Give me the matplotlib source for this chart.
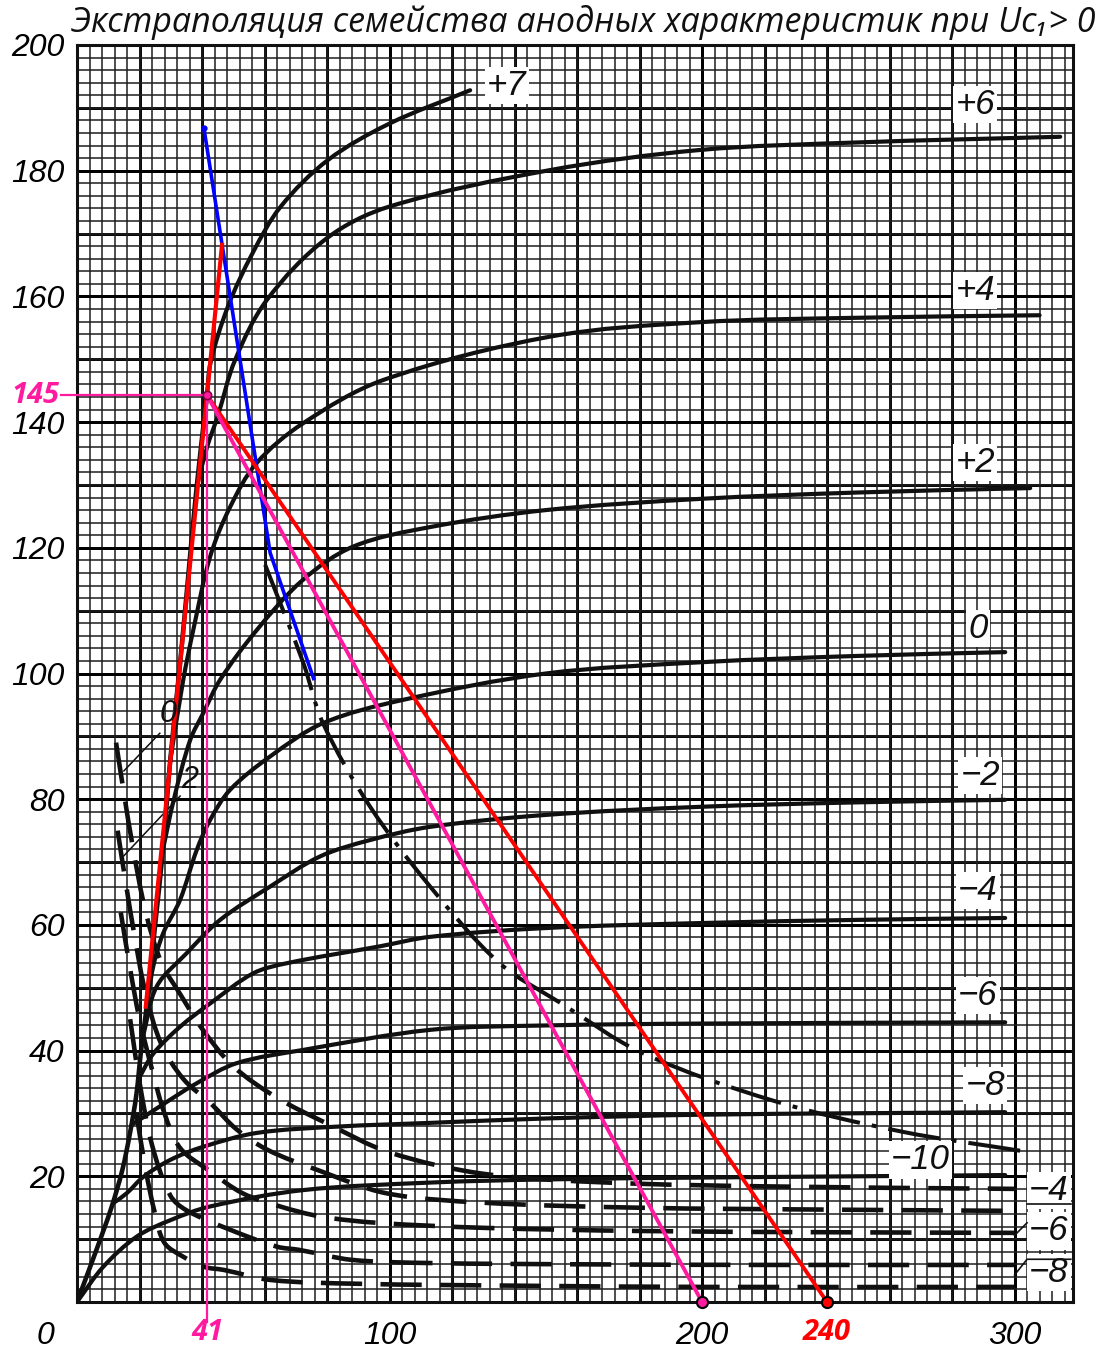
import matplotlib
matplotlib.use('Agg')
import matplotlib.pyplot as plt
import matplotlib.transforms as mtransforms
from matplotlib.path import Path
from matplotlib.patches import PathPatch
from matplotlib.ticker import MultipleLocator

# Ua, В  /  Ia, мА
# common steep part (from origin) that all curves leave
env_x = [0, 6, 11, 14.5, 17, 19, 20.5, 22.3, 25, 27.5, 29.8, 33, 38.3, 41.6]
env_y = [0, 8, 15, 21, 27, 33, 40, 47, 60, 72, 86, 101.7, 129.7, 144.3]

ug_labels = ['+7', '+6', '+4', '+2', '0', '−2', '−4', '−6', '−8', '−10']
ua = [
    [41.6, 42.7, 48.3, 56.2, 65.2, 80.3, 100, 125.8],
    [38.3, 41.6, 45, 50.6, 60.7, 79.8, 100, 151.4, 199.4, 250, 314.6],
    [29.8, 34, 37.2, 42.6, 49, 57.5, 72.3, 98, 151.4, 199.4, 250, 308],
    [27.5, 31, 36.2, 40.4, 45.8, 57.5, 72.3, 88.4, 113, 150, 200, 250, 305],
    [22.3, 24.4, 27.6, 33, 38.3, 42.6, 49, 61.8, 78.7, 104.3, 150, 200, 250, 297],
    [21, 25.5, 35.1, 45.8, 61.8, 77.8, 93.8, 113, 150, 200, 250, 297],
    [19.5, 24.4, 33, 42.6, 56.4, 67.1, 97, 113, 150, 200, 250, 297],
    [17.5, 20, 25.5, 38.3, 51.1, 72.3, 113, 150, 200, 297],
    [11.5, 15.9, 21.2, 29.8, 40.4, 57.5, 83.1, 113, 150, 200, 297],
    [0, 8.4, 19.1, 29.8, 42.6, 72.3, 113, 150, 200, 250, 297],
]
ia = [
    [144.3, 149.4, 158.4, 166.9, 174.3, 181.7, 187.5, 192.8],
    [129.7, 136, 140.9, 149.9, 159.4, 169.2, 174.3, 180.1, 183.3, 184.5, 185.4],
    [86, 99, 106.9, 118.6, 126.5, 133.5, 139.8, 146.7, 153.6, 155.9, 156.6, 157],
    [72, 80, 89.4, 93.7, 99, 106.9, 114.9, 120.2, 123.3, 126, 127.8, 128.8, 129.5],
    [47, 53.4, 58.7, 64, 71.9, 76.7, 81.5, 86.8, 92.1, 95.8, 100, 101.8, 102.8, 103.4],
    [42, 50.2, 55.5, 60.8, 66.1, 70.9, 73.5, 75.6, 77.5, 78.8, 79.5, 79.9],
    [35.3, 39.5, 43.8, 47.5, 52.3, 53.9, 56.6, 58.1, 59.5, 60.3, 60.8, 61.1],
    [28.2, 29, 30.8, 34.8, 38, 40.1, 43.3, 44, 44.3, 44.5],
    [15.7, 17.3, 19.9, 22.6, 24.7, 26.9, 27.9, 28.5, 29.2, 29.8, 30.2],
    [0, 5.6, 10.4, 13, 15.2, 17.8, 19, 19.5, 19.8, 20, 20.2],
]

# dashed family (labels on the sheet: 0, 2 at left; -4, -6, -8 at right)
dash_ua = [
    [12.5, 15, 18, 22, 27, 33, 40, 50, 64, 80, 100, 130, 170, 220, 300],
    [13, 15.5, 18.5, 22, 27, 34, 43, 51, 61, 77, 99, 130, 180, 240, 300],
    [14, 17, 20, 24, 28, 33, 42, 53, 65, 78, 96, 130, 180, 240, 300],
    [17, 20, 24, 29.8, 35, 49, 64, 71, 88, 113, 160, 220, 300],
    [19, 22, 25, 28, 34, 40.6, 47, 62, 90, 140, 200, 300],
]
dash_ia = [
    [89, 81, 72, 62, 54, 49, 43.5, 37.5, 32.5, 28.4, 23.8, 20.4, 19, 18.4, 18],
    [75, 67, 58, 49, 41, 35.5, 31.5, 27.5, 24.2, 21, 17.3, 15.8, 15, 14.7, 14.5],
    [62, 53, 45, 37, 30, 24.5, 21, 17.3, 15.2, 13.6, 12.6, 11.8, 11.3, 11.1, 11],
    [45, 35, 25, 17, 14.6, 11.5, 8.8, 8.3, 6.7, 6.2, 6, 5.9, 5.9],
    [30, 21, 14, 9.4, 7.2, 5.6, 5.1, 3.5, 2.9, 2.6, 2.4, 2.4],
]

# dash-dot curve of allowed dissipation
pa_x = [60.2, 72.4, 78.7, 93.8, 113, 135, 155, 181, 223, 264, 302.7]
pa_y = [117.3, 101.7, 92.1, 78.8, 66.1, 54, 47.5, 39.6, 32, 27.1, 24]

# hand-drawn construction lines
blue_x = [40.6, 61.8, 75.7]
blue_y = [186.8, 119.2, 99.2]
red_steep_x = [22, 46.4]
red_steep_y = [47, 168.2]
work_ua, work_ia = 41.6, 144.3
red_end = 240
pink_end = 200

xticks = [0, 100, 200, 300]
yticks = [20, 40, 60, 80, 100, 120, 140, 160, 180, 200]

PINK = '#ff1aa0'
RED = '#ff0000'
BLUE = '#0000ff'
INK = '#101010'

# pixels per unit, only used to shape the smooth drawing of a curve
SX, SY = 3.125, 6.285


def smooth(xs, ys):
    # bezier path through the read points (drawing only, no new data)
    P = [(x * SX, y * SY) for x, y in zip(xs, ys)]
    n = len(P)
    T = []
    for i in range(n):
        a = P[max(i - 1, 0)]
        b = P[min(i + 1, n - 1)]
        dx, dy = b[0] - a[0], b[1] - a[1]
        d = (dx * dx + dy * dy) ** 0.5 or 1
        T.append((dx / d, dy / d))
    verts = [P[0]]
    codes = [Path.MOVETO]
    for i in range(n - 1):
        L = ((P[i + 1][0] - P[i][0]) ** 2 + (P[i + 1][1] - P[i][1]) ** 2) ** 0.5 / 3
        verts += [(P[i][0] + T[i][0] * L, P[i][1] + T[i][1] * L),
                  (P[i + 1][0] - T[i + 1][0] * L, P[i + 1][1] - T[i + 1][1] * L),
                  P[i + 1]]
        codes += [Path.CURVE4] * 3
    return Path([(vx / SX, vy / SY) for vx, vy in verts], codes)


def curve(xs, ys, **kw):
    ax.add_patch(PathPatch(smooth(xs, ys), fill=False, **kw))


fig = plt.figure(figsize=(11.05, 13.62), dpi=100)
ax = fig.add_axes([77 / 1105, 1 - 1302 / 1362, 996 / 1105, 1257 / 1362])
ax.set_xlim(0, 318.7)
ax.set_ylim(0, 200)

# graph paper
ax.set_xticks(xticks)
ax.set_yticks(yticks)
ax.xaxis.set_minor_locator(MultipleLocator(4))
ax.yaxis.set_minor_locator(MultipleLocator(2))
ax.grid(which='minor', color='#1e1e1e', lw=1.1)
ax.grid(which='major', color='black', lw=2.1)
for v in range(10, 200, 10):
    ax.axhline(v, color='black', lw=2.1, zorder=0.5)
for v in range(20, 320, 20):
    ax.axvline(v, color='black', lw=2.1, zorder=0.5)
ax.set_axisbelow(True)
for s in ax.spines.values():
    s.set_linewidth(2.2)
    s.set_color(INK)
ax.tick_params(which='both', length=0)

tick_font = dict(family=['Liberation Sans', 'DejaVu Sans'], style='italic', size=23)
ax.set_xticklabels([str(v) for v in xticks], **tick_font)
ax.set_yticklabels([str(v) for v in yticks], **tick_font)
ax.tick_params(axis='x', pad=14)
ax.tick_params(axis='y', pad=9)
xl0 = ax.get_xticklabels()[0]
xl0.set_transform(xl0.get_transform() + mtransforms.ScaledTranslation(-0.32, 0, fig.dpi_scale_trans))

# solid family
curve(env_x, env_y, color=INK, lw=3.3, zorder=3, capstyle='round')
for xs, ys in zip(ua, ia):
    curve(xs, ys, color=INK, lw=3.0, zorder=3, capstyle='round')

# dashed family
for xs, ys in zip(dash_ua, dash_ia):
    curve(xs, ys, color=INK, lw=3.3, ls=(0, (9, 4)), zorder=3)

# dash-dot
curve(pa_x, pa_y, color=INK, lw=2.9, ls=(0, (13, 3, 1.2, 3)), zorder=3)

# construction lines
ax.plot(blue_x, blue_y, color=BLUE, lw=2.6, zorder=5)
ax.plot(blue_x[0], blue_y[0], 'o', ms=3.5, color=BLUE, zorder=6)
ax.plot(red_steep_x, red_steep_y, color=RED, lw=3, zorder=5)
ax.plot([work_ua, red_end], [work_ia, 0], color=RED, lw=2.8, zorder=5, clip_on=False)
ax.plot([work_ua, pink_end], [work_ia, 0], color=PINK, lw=2.8, zorder=5, clip_on=False)
ax.plot([-5.0, work_ua], [work_ia, work_ia], color=PINK, lw=1.6, zorder=5, clip_on=False)
ax.plot([work_ua, work_ua], [work_ia, -3.2], color=PINK, lw=1.6, zorder=5, clip_on=False)
ax.plot(work_ua, work_ia, 'o', ms=6, mfc=PINK, mec='#800040', mew=1.2, zorder=7)
ax.plot(pink_end, 0, 'o', ms=8, mfc=PINK, mec='black', mew=1.5, zorder=7, clip_on=False)
ax.plot(red_end, 0, 'o', ms=8, mfc=RED, mec='black', mew=1.5, zorder=7, clip_on=False)

# curve labels
lbl_font = dict(family=['Liberation Sans', 'DejaVu Sans'], style='italic', size=25,
                color=INK, ha='center', va='center', zorder=8)
box = dict(fc='white', ec='none', pad=1.5)
lbl_x = [137.5, 287.4, 287.4, 287.4, 288.3, 289, 288.3, 288.3, 290.6, 269.8]
lbl_y = [193.6, 190.5, 161.0, 133.6, 107.2, 83.8, 65.5, 48.8, 34.5, 22.6]
for t, x, y in zip(ug_labels, lbl_x, lbl_y):
    ax.text(x, y, t, bbox=box, **lbl_font)

dash_labels = ['−4', '−6', '−8']
for t, y in zip(dash_labels, [17.8, 11.3, 4.7]):
    ax.text(311, y, t, bbox=box, **lbl_font)
ax.plot([300, 304], [10.6, 12.6], color=INK, lw=1.2, zorder=8)
ax.plot([300, 304, 318], [4.3, 6.8, 6.8], color=INK, lw=1.2, zorder=8)
ax.plot([304, 318], [15.6, 15.6], color=INK, lw=1.2, zorder=8)

# left dashed labels with leaders
small = dict(family=['Liberation Sans', 'DejaVu Sans'], style='italic', size=22,
             color=INK, ha='center', va='center', zorder=8)
ax.text(29.2, 93.5, '0', **small)
ax.text(36, 83, '2', **small)
ax.plot([26.5, 15], [90.5, 84.5], color=INK, lw=1.1, zorder=4)
ax.plot([33, 15], [80.5, 71], color=INK, lw=1.1, zorder=4)

# coloured annotations
ann = dict(family=['Open Sans', 'DejaVu Sans'], style='italic', weight='bold', size=21)
ax.text(-5.5, work_ia, '145', color=PINK, ha='right', va='center', **ann)
ax.text(work_ua, -4.8, '41', color=PINK, ha='center', va='center', **ann)
ax.text(red_end, -4.8, '240', color=RED, ha='center', va='center', **ann)

fig.text(0.528, 1 - 22 / 1362, 'Экстраполяция семейства анодных характеристик при Uc₁> 0',
         family=['Open Sans', 'DejaVu Sans'], style='italic', size=24.5,
         ha='center', va='center', color=INK)

fig.savefig('out.png', dpi=100)
